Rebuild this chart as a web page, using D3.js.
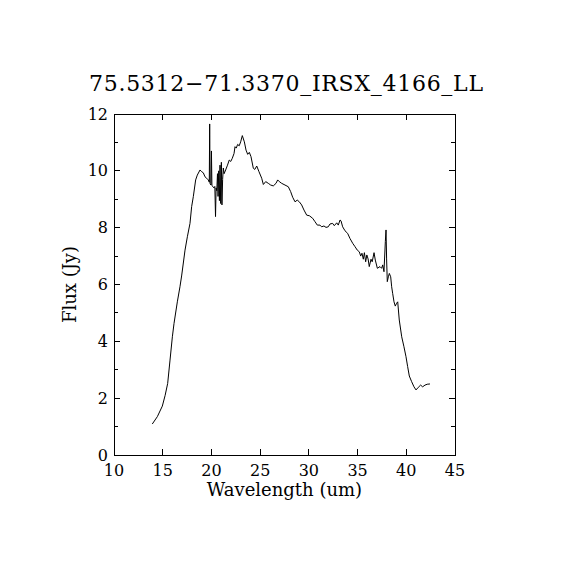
<!DOCTYPE html>
<html lang="en">
<head>
	<meta charset="UTF-8">
	<title>IRS spectrum</title>
	<script src="https://d3js.org/d3.v7.min.js"></script>
	<style>
		body { margin: 0; background: #fff; }
		text { font-family: "DejaVu Serif", "Liberation Serif", serif; fill: #000; }
	</style>
</head>
<body>
	<div id="main"></div>
<script>
	// spectrum
	var wavelength = [
		13.93, 14.45, 14.96, 15.25, 15.51, 15.75, 15.99, 16.16, 16.5, 16.77,
		16.94, 17.29, 17.53, 17.8, 17.97, 18.14, 18.38, 18.55, 18.83, 19.0,
		19.17, 19.34, 19.51, 19.68, 19.78, 19.82, 19.86, 19.95, 20.0, 20.05,
		20.15, 20.25, 20.35, 20.42, 20.48, 20.55, 20.62, 20.68, 20.75, 20.82,
		20.88, 20.95, 21.02, 21.08, 21.15, 21.22, 21.3, 21.46, 21.65, 21.83,
		21.98, 22.14, 22.32, 22.42, 22.55, 22.69, 22.85, 23.0, 23.17, 23.38,
		23.55, 23.72, 23.89, 24.06, 24.3, 24.45, 24.65, 24.88, 25.16, 25.33,
		25.57, 25.84, 26.08, 26.35, 26.63, 26.8, 26.97, 27.21, 27.55, 27.89,
		28.13, 28.34, 28.58, 28.81, 29.02, 29.26, 29.5, 29.78, 30.05, 30.39,
		30.63, 30.87, 31.14, 31.31, 31.55, 31.76, 31.99, 32.17, 32.44, 32.61,
		32.86, 33.02, 33.2, 33.3, 33.47, 33.71, 33.98, 34.22, 34.5, 34.74,
		34.97, 35.18, 35.32, 35.45, 35.59, 35.7, 35.83, 35.95, 36.08, 36.2,
		36.38, 36.5, 36.69, 36.82, 37.03, 37.3, 37.47, 37.58, 37.71, 37.85,
		37.92, 37.98, 38.05, 38.16, 38.26, 38.4, 38.5, 38.6, 38.74, 38.87,
		39.01, 39.12, 39.28, 39.53, 39.76, 39.97, 40.14, 40.31, 40.55, 40.79,
		41.0, 41.23, 41.47, 41.68, 41.92, 42.15, 42.43
	];
	var flux = [
		1.09, 1.35, 1.72, 2.1, 2.52, 3.34, 4.16, 4.63, 5.39, 5.92,
		6.3, 7.21, 7.68, 8.15, 8.74, 9.09, 9.68, 9.85, 10.03, 9.97,
		9.93, 9.79, 9.74, 9.68, 9.6, 11.65, 9.55, 9.5, 10.7, 9.48,
		9.45, 9.4, 9.45, 8.39, 9.4, 9.3, 9.9, 9.1, 10.0, 8.95,
		10.2, 8.85, 10.3, 8.8, 9.7, 10.1, 9.9, 10.03, 10.2, 10.38,
		10.33, 10.44, 10.61, 10.85, 10.8, 10.93, 10.88, 11.02, 11.24, 11.02,
		10.73, 10.58, 10.65, 10.5, 10.09, 10.05, 10.17, 9.97, 9.74, 9.52,
		9.62, 9.56, 9.5, 9.47, 9.56, 9.68, 9.62, 9.56, 9.5, 9.44,
		9.27, 9.07, 8.91, 8.97, 8.91, 8.8, 8.62, 8.44, 8.42, 8.33,
		8.21, 8.09, 8.09, 8.03, 8.06, 8.01, 8.03, 8.13, 8.15, 8.07,
		8.17, 8.09, 8.27, 8.24, 8.03, 7.89, 7.8, 7.62, 7.45, 7.33,
		7.21, 7.15, 7.0, 7.1, 6.89, 7.12, 6.8, 7.04, 6.9, 6.63,
		6.89, 6.8, 7.12, 6.86, 6.57, 6.63, 6.57, 6.69, 6.45, 7.51,
		7.92, 6.9, 6.1, 6.27, 6.39, 6.27, 5.92, 5.69, 5.39, 5.24,
		5.34, 5.39, 4.75, 4.16, 3.81, 3.46, 3.11, 2.78, 2.58, 2.4,
		2.29, 2.38, 2.46, 2.4, 2.46, 2.49, 2.5
	];
	var xTicks = [10, 15, 20, 25, 30, 35, 40, 45];
	var yTicks = [0, 2, 4, 6, 8, 10, 12];
	var yMinor = [1, 3, 5, 7, 9, 11];

	var title = "75.5312\u221271.3370_IRSX_4166_LL";

	var width = 570, height = 570;
	// plot box (note: "top" is a reserved window global, so use pTop etc.)
	var pLeft = 114, pRight = 455, pTop = 114, pBottom = 455;

	var svg = d3.select("#main")
		.append("svg")
		.attr("width", width)
		.attr("height", height);

	var x = d3.scaleLinear().domain([10, 45]).range([pLeft, pRight]);
	var y = d3.scaleLinear().domain([0, 12]).range([pBottom, pTop]);

	var axisG = svg.append("g")
		.attr("stroke", "#000")
		.attr("stroke-width", 1)
		.attr("shape-rendering", "crispEdges");

	// frame
	axisG.append("rect")
		.attr("x", pLeft).attr("y", pTop)
		.attr("width", pRight - pLeft).attr("height", pBottom - pTop)
		.attr("fill", "none");

	// ticks, drawn inward on all four sides
	var majorLen = 6, minorLen = 4;
	xTicks.slice(1, -1).forEach(function(t){
		axisG.append("line").attr("x1", x(t)).attr("x2", x(t)).attr("y1", pBottom).attr("y2", pBottom - majorLen);
		axisG.append("line").attr("x1", x(t)).attr("x2", x(t)).attr("y1", pTop).attr("y2", pTop + majorLen);
	});
	yTicks.slice(1, -1).forEach(function(t){
		axisG.append("line").attr("x1", pLeft).attr("x2", pLeft + majorLen).attr("y1", y(t)).attr("y2", y(t));
		axisG.append("line").attr("x1", pRight).attr("x2", pRight - majorLen).attr("y1", y(t)).attr("y2", y(t));
	});
	yMinor.forEach(function(t){
		axisG.append("line").attr("x1", pLeft).attr("x2", pLeft + minorLen).attr("y1", y(t)).attr("y2", y(t));
		axisG.append("line").attr("x1", pRight).attr("x2", pRight - minorLen).attr("y1", y(t)).attr("y2", y(t));
	});

	// tick labels
	svg.selectAll(".xlab")
		.data(xTicks)
		.enter()
		.append("text")
		.attr("class", "xlab")
		.attr("x", function(d){ return x(d); })
		.attr("y", 476)
		.attr("text-anchor", "middle")
		.attr("font-size", 16)
		.text(function(d){ return d; });

	svg.selectAll(".ylab")
		.data(yTicks)
		.enter()
		.append("text")
		.attr("class", "ylab")
		.attr("x", 108)
		.attr("y", function(d){ return y(d) + 5.5; })
		.attr("text-anchor", "end")
		.attr("font-size", 16)
		.text(function(d){ return d; });

	// axis titles
	svg.append("text")
		.attr("x", (pLeft + pRight) / 2)
		.attr("y", 496)
		.attr("text-anchor", "middle")
		.attr("font-size", 18)
		.text("Wavelength (um)");

	svg.append("text")
		.attr("transform", "translate(76," + ((pTop + pBottom) / 2) + ") rotate(-90)")
		.attr("text-anchor", "middle")
		.attr("font-size", 18)
		.text("Flux (Jy)");

	svg.append("text")
		.attr("x", 89)
		.attr("y", 91)
		.attr("font-size", 22)
		.attr("textLength", 394)
		.attr("lengthAdjust", "spacing")
		.text(title);

	// spectrum
	var pts = wavelength.map(function(w, i){ return [w, flux[i]]; });
	var line = d3.line()
		.x(function(d){ return x(d[0]); })
		.y(function(d){ return y(d[1]); });

	svg.append("path")
		.datum(pts)
		.attr("d", line)
		.attr("fill", "none")
		.attr("stroke", "#000")
		.attr("stroke-width", 1);
</script>
</body>
</html>
